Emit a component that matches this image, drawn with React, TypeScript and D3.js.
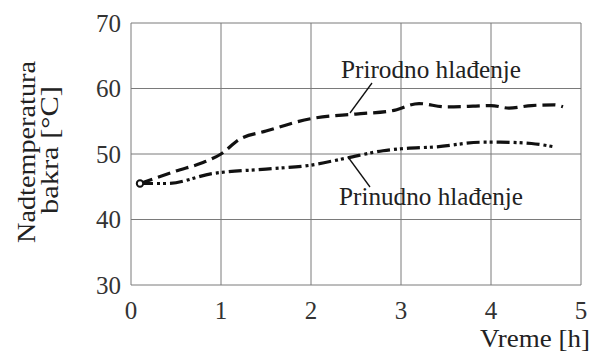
import React from "react";
import * as d3 from "d3";

// Copper over-temperature vs time, two cooling regimes
const xTicks = [0, 1, 2, 3, 4, 5];
const yTicks = [30, 40, 50, 60, 70];

const prirodnoTime = [0.1, 0.5, 0.8, 1.0, 1.2, 1.5, 2.0, 2.5, 2.9, 3.2, 3.5, 3.8, 4.0, 4.2, 4.45, 4.7, 4.8];
const prirodnoTemp = [45.5, 47.4, 48.7, 50.0, 52.2, 53.5, 55.4, 56.1, 56.6, 57.7, 57.2, 57.3, 57.4, 57.0, 57.4, 57.5, 57.2];

const prinudnoTime = [0.1, 0.4, 0.9, 1.5, 2.0, 2.4, 2.8, 3.0, 3.4, 3.9, 4.1, 4.45, 4.7];
const prinudnoTemp = [45.5, 45.5, 47.0, 47.7, 48.3, 49.4, 50.5, 50.8, 51.1, 51.8, 51.8, 51.6, 51.1];

const labelPrirodno = "Prirodno hlađenje";
const labelPrinudno = "Prinudno hlađenje";

const W = 593;
const H = 356;
const left = 131;
const right = 581;
const top = 23;
const bottom = 285;

export default function App() {
  const x = d3.scaleLinear().domain([0, 5]).range([left, right]);
  const y = d3.scaleLinear().domain([30, 70]).range([bottom, top]);

  const line = d3
    .line<[number, number]>()
    .x((d) => x(d[0]))
    .y((d) => y(d[1]))
    .curve(d3.curveMonotoneX);

  const prirodno = prirodnoTime.map((t, i) => [t, prirodnoTemp[i]] as [number, number]);
  const prinudno = prinudnoTime.map((t, i) => [t, prinudnoTemp[i]] as [number, number]);

  return (
    <div style={{ position: "absolute", left: 0, top: 0, width: W, height: H, background: "#fff" }}>
      <svg width={W} height={H}>
        {/* grid */}
        {xTicks.map((t) => (
          <line key={"gx" + t} x1={x(t)} x2={x(t)} y1={top} y2={bottom} stroke="#7a7a7a" strokeWidth={1} />
        ))}
        {yTicks.map((t) => (
          <line key={"gy" + t} x1={left} x2={right} y1={y(t)} y2={y(t)} stroke="#7a7a7a" strokeWidth={1} />
        ))}
        {/* curves */}
        <path d={line(prirodno) || ""} fill="none" stroke="#111" strokeWidth={3.2} strokeDasharray="13,6" />
        <path d={line(prinudno) || ""} fill="none" stroke="#111" strokeWidth={3.2} strokeDasharray="13,4,3,3,3,4" />
        <circle cx={x(0.1)} cy={y(45.5)} r={3.2} fill="#fff" stroke="#111" strokeWidth={2} />
        <line x1={372} y1={83} x2={350} y2={113} stroke="#111" strokeWidth={1.3} />
        <line x1={348} y1={157} x2={370} y2={187} stroke="#111" strokeWidth={1.3} />
        {/* text */}
        <g fontFamily="Liberation Serif, Times New Roman, serif" fontSize={25}>
          {yTicks.map((t) => (
            <text key={"ly" + t} x={left - 10} y={y(t) + 8.5} textAnchor="end" fill="#333">
              {t}
            </text>
          ))}
          {xTicks.map((t) => (
            <text key={"lx" + t} x={x(t)} y={319} textAnchor="middle" fill="#333">
              {t}
            </text>
          ))}
          <text x={480} y={347} fill="#222" textLength={110} lengthAdjust="spacingAndGlyphs">
            Vreme [h]
          </text>
          <g transform="translate(35,152) rotate(-90)">
            <text x={-91} y={0} fill="#222" textLength={182} lengthAdjust="spacingAndGlyphs">
              Nadtemperatura
            </text>
            <text x={-62} y={23} fill="#222" textLength={128} lengthAdjust="spacingAndGlyphs">
              bakra [°C]
            </text>
          </g>
          <text x={341} y={78} fill="#222" textLength={180} lengthAdjust="spacingAndGlyphs">
            {labelPrirodno}
          </text>
          <text x={339} y={205} fill="#222" textLength={184} lengthAdjust="spacingAndGlyphs">
            {labelPrinudno}
          </text>
        </g>
      </svg>
    </div>
  );
}
